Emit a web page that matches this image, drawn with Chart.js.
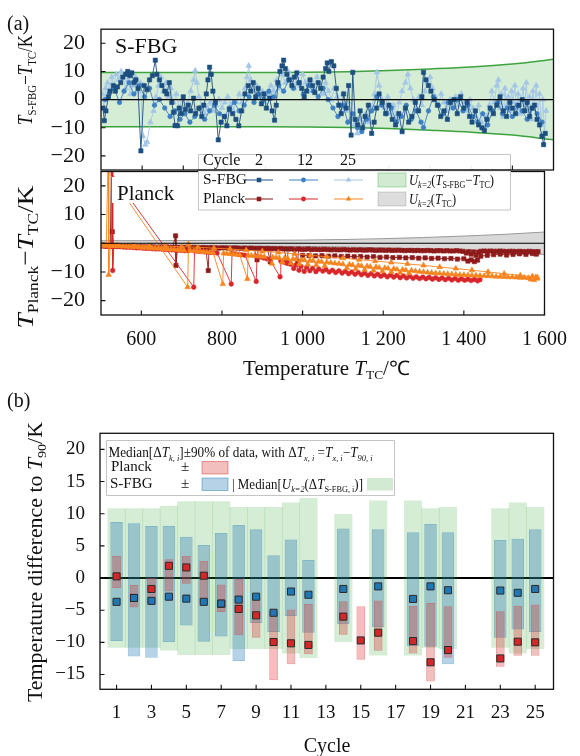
<!DOCTYPE html>
<html><head><meta charset="utf-8">
<script src="https://cdn.jsdelivr.net/npm/chart.js@4.4.1/dist/chart.umd.min.js"></script>
<style>
html,body{margin:0;padding:0;background:#fff;}
#wrap{position:relative;width:580px;height:756px;overflow:hidden;}
canvas{position:absolute;left:0;top:0;}
</style></head><body>
<div id="wrap">
<canvas id="cA2" width="580" height="756"></canvas>
<canvas id="cA1" width="580" height="756"></canvas>
<canvas id="cB" width="580" height="756"></canvas>
</div>
<script>
// ================= Panel (a) data =================
const tempTicksTop = [600,700,800,900,1000,1100,1200,1300,1400,1500];
const tempTicksBottom = [600,800,1000,1200,1400,1600];
const devTicks = [-20,-10,0,10,20];

// S-FBG - T_TC, cycle 2 / 12 / 25  ([T_TC, deviation])
const fbgCycle2 = [[505,-3],[508,-7.5],[512,-4],[518,1],[522,3],[530,5],[535,3],[540,4.5],[548,6],[553,8],[560,9],[565,10],[570,8.5],[575,9.5],[580,6],[585,7],[590,4],[597,-18.2],[605,5],[612,3.5],[618,7],[625,8.5],[632,14],[636,9],[642,7],[648,5],[655,3],[660,2],[666,6],[672,-1],[676,-4.5],[680,-9.2],[686,-9.3],[690,-3],[695,-5],[700,1],[705,-3.5],[712,-2],[718,-4],[725,0.5],[730,-5],[738,-3],[745,-6],[750,-2],[756,2],[760,7],[764,11.5],[768,9],[772,3],[778,-1],[785,-14.3],[792,-8],[800,-6],[806,-9.3],[812,-3.5],[820,-5],[828,-7],[835,-9.3],[842,-4],[850,2],[858,5],[864,3],[870,6],[876,1],[882,4],[890,-1.5],[896,2],[902,-3],[910,0.5],[916,-4],[922,-7.3],[926,-2],[930,6],[935,10],[940,12],[944,14],[948,11],[952,9],[958,7],[964,5],[970,8],[976,9.5],[982,6],[988,4],[994,1],[1000,3],[1008,7],[1014,5],[1020,2.5],[1028,6],[1034,4],[1040,8],[1046,11],[1050,13],[1054,10],[1060,13.5],[1066,12],[1072,4],[1078,-2],[1084,-5],[1090,2],[1096,-3],[1102,5],[1108,-12.6],[1112,9.7],[1118,-7],[1124,-9],[1130,-4],[1136,-10],[1142,-6],[1150,-2],[1158,-12],[1164,-8],[1170,-3],[1176,2],[1184,-1],[1192,-5],[1200,-2],[1208,-7],[1216,-9],[1224,-5],[1232,-11.4],[1240,-3],[1248,-8],[1256,-6],[1264,-1],[1272,-4],[1280,1],[1284,9.7],[1290,7],[1296,5],[1302,3],[1310,0],[1318,-2],[1326,-6],[1334,-4],[1342,-7],[1350,-1],[1358,0],[1366,-5],[1374,1],[1382,-3],[1390,-1],[1396,-6],[1402,-8],[1410,-4],[1418,-9],[1426,-10],[1432,-11],[1438,-7],[1446,-3],[1454,-5],[1462,-2],[1470,1],[1478,-4],[1486,-6],[1494,-1],[1500,-3],[1508,-5],[1516,-2],[1524,0],[1530,-4],[1536,-1],[1542,-6],[1548,-3],[1554,-2],[1560,-7],[1566,-9],[1572,-13],[1576,-16],[1580,-12]];
const fbgCycle12 = [[510,0],[520,2],[532,4],[545,-1],[556,3],[568,6],[580,2],[594,5],[606,1],[618,4],[630,-2],[642,0],[655,-3],[668,-6],[680,-4],[692,-7],[704,-5],[716,-8],[728,-6],[740,-3],[752,-7],[764,-4],[776,-2],[788,-5],[800,-6],[812,-3],[824,-1],[836,-4],[848,-2],[860,1],[872,-1],[884,2],[896,0],[908,3],[920,1],[932,5],[944,3],[956,7],[968,4],[980,6],[992,2],[1004,5],[1016,3],[1028,1],[1040,4],[1052,0],[1064,-3],[1076,-6],[1088,-2],[1100,-8],[1112,-5],[1124,-10],[1134,-11.4],[1146,-7],[1158,-4],[1170,1],[1182,-2],[1194,-5],[1206,-3],[1218,-8],[1230,-6],[1242,-2],[1254,-7],[1266,-4],[1278,-8],[1284,-9.9],[1296,-4],[1308,1],[1320,-2],[1332,-5],[1344,-1],[1356,-3],[1368,0],[1380,-4],[1392,-2],[1404,-6],[1416,-8],[1428,-5],[1440,-9],[1452,-4],[1464,-1],[1476,-5],[1488,-3],[1500,-6],[1512,-2],[1524,-4],[1536,-7],[1548,-3],[1560,-5],[1572,-8]];
const fbgCycle25 = [[503,2],[507,-3],[511,4],[516,6],[520,3],[526,8],[531,5],[537,9],[543,7],[549,10],[554,8],[560,4],[566,7],[572,2],[578,5],[584,8],[590,3],[596,6],[602,-13],[608,-16],[612,-15],[620,-8],[628,-4],[634,1],[640,5],[646,8],[652,3],[658,6],[664,1],[670,4],[676,-1],[683,2],[690,-3],[697,0],[704,-4],[711,-1],[718,3],[725,7],[729,10.3],[733,6],[738,1],[745,-2],[752,-5],[759,-3],[766,-1],[773,-4],[780,-2],[787,0],[794,-3],[801,-1],[808,1],[815,-2],[822,-4],[829,-1],[836,2],[843,-1],[850,4],[855,8],[859,12],[864,7],[871,3],[878,5],[885,1],[892,3],[899,-1],[906,2],[913,5],[920,3],[927,7],[934,4],[941,9],[948,6],[955,10],[962,7],[969,4],[976,8],[983,5],[990,9],[997,6],[1004,3],[1011,7],[1018,4],[1025,8],[1032,5],[1039,2],[1046,6],[1053,3],[1060,0],[1067,4],[1074,1],[1081,-2],[1088,2],[1095,-4],[1102,-1],[1109,-6],[1116,-9],[1123,-12],[1130,-7],[1137,-10],[1144,-5],[1151,-8],[1158,-3],[1165,2],[1171,9.7],[1176,5],[1183,0],[1190,-3],[1197,1],[1204,-5],[1211,-2],[1218,-6],[1225,-1],[1232,3],[1240,6],[1246,9],[1252,4],[1259,0],[1266,-3],[1273,1],[1280,-2],[1287,3],[1294,6],[1300,8],[1306,4],[1313,1],[1320,-2],[1327,2],[1334,-1],[1341,-4],[1348,0],[1355,-3],[1362,1],[1369,-2],[1376,2],[1383,-1],[1390,-4],[1397,0],[1404,-3],[1411,-6],[1418,-2],[1425,-8],[1432,-10],[1438,-6],[1444,-2],[1450,3],[1456,-1],[1462,5],[1466,7],[1470,-3],[1474,2],[1478,-6],[1482,4],[1486,-2],[1490,1],[1494,-4],[1498,3],[1502,-1],[1506,5],[1510,-3],[1514,2],[1518,-5],[1522,0],[1526,4],[1530,-2],[1534,6],[1538,-4],[1542,1],[1546,-7],[1550,3],[1554,-2],[1558,5],[1562,-6],[1566,2],[1570,-9],[1574,0],[1578,-12],[1582,-4]];

// Planck - T_TC, cycle 2 / 12 / 25 (null = break in the line)
const planckCycle2 = [[503,-0.8],[508,-0.9],[513,-1.0],[518,-0.9],[523,-1.0],[527,40],[528,4.0],[531,-1.0],[537,-1.1],[544,-1.0],[551,-1.1],[558,-1.2],[566,-1.1],[574,-1.2],[582,-1.2],[590,-1.3],[598,-1.2],[606,-1.3],[614,-1.3],[622,-1.2],[630,-1.3],[638,-1.4],[646,-1.3],[654,-1.4],[662,-1.3],[670,-1.4],[678,-1.4],[685,2.6],[686,-7.7],[690,-1.4],[698,-1.5],[706,-1.4],[714,-1.5],[722,-1.5],[730,-1.4],[738,-1.5],[746,-1.6],[754,-1.5],[760,-1.6],[766,-9.5],[768,-1.6],[776,-1.5],[784,-1.6],[792,-1.7],[800,-1.6],[808,-1.6],[816,-1.7],[824,-1.7],[832,-1.6],[840,-1.7],[848,-1.8],[856,-1.7],[864,-1.8],[872,-1.7],[880,-1.8],[887,-5.8],[889,-1.8],[897,-1.8],[905,-1.9],[913,-1.8],[920,-6.5],[922,-1.9],[930,-1.9],[938,-2.0],[946,-1.9],[954,-2.0],[962,-6.8],[964,-2.0],[972,-2.0],[980,-2.1],[988,-6.3],[990,-2.0],[998,-2.1],[1006,-2.1],[1014,-2.0],[1022,-2.2],[1030,-2.1],[1038,-2.2],[1046,-2.2],[1054,-2.1],[1062,-2.2],[1070,-2.3],[1078,-2.2],[1086,-2.3],[1094,-2.3],[1102,-2.2],[1110,-2.3],[1118,-2.4],[1126,-2.3],[1134,-2.4],[1142,-2.3],[1150,-2.4],[1158,-2.4],[1166,-2.3],[1174,-2.4],[1182,-2.5],[1190,-2.4],[1198,-2.4],[1206,-2.5],[1214,-2.4],[1222,-2.5],[1230,-2.5],[1238,-2.4],[1246,-2.5],[1254,-2.6],[1262,-2.5],[1270,-2.5],[1278,-2.6],[1286,-2.5],[1294,-2.6],[1302,-2.6],[1310,-2.5],[1318,-2.6],[1326,-2.7],[1334,-2.6],[1342,-2.6],[1350,-2.7],[1358,-2.6],[1366,-2.7],[1374,-2.7],[1382,-2.6],[1390,-2.7],[1398,-2.8],[1406,-3.4],[1412,-2.9],[1418,-3.8],[1424,-3.0],[1430,-4.2],[1436,-3.1],[1442,-2.8],[1450,-2.7],[1458,-2.8],[1466,-2.7],[1474,-2.8],[1482,-2.8],[1490,-2.7],[1498,-2.8],[1506,-2.9],[1514,-2.8],[1522,-2.8],[1530,-2.9],[1538,-2.8],[1546,-2.9],[1554,-2.9],[1562,-2.8],[1570,-2.9],[1578,-3.0],[1584,-2.9],[1584,null],
[1000,-4.2],[1016,-4.3],[1032,-4.4],[1048,-4.3],[1064,-4.5],[1080,-4.4],[1096,-4.6],[1112,-4.5],[1128,-4.7],[1144,-4.6],[1160,-4.8],[1176,-4.7],[1192,-4.9],[1208,-4.8],[1224,-5.0],[1240,-4.9],[1256,-5.1],[1272,-5.0],[1288,-5.2],[1304,-5.1],[1320,-5.3],[1336,-5.2],[1352,-5.4],[1368,-5.3],[1384,-5.5],[1400,-5.4],[1410,-6.2],[1418,-5.8],[1426,-6.4],[1434,-5.9],[1442,-4.5],[1458,-4.2],[1474,-4.0],[1490,-3.8],[1506,-4.1],[1522,-3.9],[1538,-3.7],[1554,-3.9],[1570,-3.6],[1580,-3.8]];
const planckCycle12 = [[503,-0.9],[509,-1.0],[515,-1.0],[521,-1.1],[526,-1.1],[529,40],[529,-9.5],[532,-1.1],[540,-1.2],[548,-1.2],[556,-1.3],[564,-1.4],[572,-1.4],[580,-1.5],[588,-1.6],[596,-1.6],[604,-1.7],[612,-1.8],[620,-1.8],[628,-1.9],[636,-2.0],[644,-2.0],[652,-2.1],[660,-2.2],[668,-2.2],[676,-2.3],[684,-2.4],[692,-2.4],[700,-2.5],[708,-2.6],[716,-2.6],[716,null],[518,26],[730,-15.3],[732,-2.7],[740,-2.8],[748,-2.9],[756,-3.0],[764,-3.1],[772,-3.2],[780,-3.3],[788,-3.4],[823,-14.2],[825,-3.6],[833,-3.7],[841,-3.9],[849,-4.0],[857,-4.2],[885,-13.3],[887,-4.5],[895,-4.8],[903,-5.1],[911,-5.4],[919,-5.8],[944,-11.7],[946,-6.2],[954,-6.6],[962,-7.0],[970,-7.3],[978,-8.8],[983,-7.6],[991,-9.4],[996,-8.0],[1004,-9.8],[1010,-8.4],[1018,-9.6],[1025,-8.7],[1033,-9.9],[1040,-9.0],[1050,-9.7],[1058,-9.2],[1066,-10.0],[1074,-9.4],[1082,-10.2],[1090,-9.6],[1098,-10.4],[1106,-9.8],[1114,-10.6],[1122,-10.0],[1130,-10.8],[1138,-10.2],[1146,-11.0],[1154,-10.4],[1162,-11.2],[1170,-10.6],[1178,-11.4],[1186,-10.8],[1194,-11.5],[1202,-11.0],[1210,-11.7],[1218,-11.1],[1226,-11.8],[1234,-11.2],[1242,-12.0],[1250,-11.4],[1258,-12.1],[1266,-11.5],[1274,-12.2],[1282,-11.7],[1290,-12.3],[1298,-11.8],[1306,-12.4],[1314,-11.9],[1322,-12.5],[1330,-12.0],[1338,-12.6],[1346,-12.1],[1354,-12.7],[1362,-12.2],[1370,-12.8],[1378,-12.3],[1386,-12.9],[1394,-12.4],[1402,-12.9],[1410,-12.5],[1418,-13.0],[1426,-12.6],[1434,-13.1],[1440,-12.7]];
const planckCycle25 = [[503,-0.7],[508,-0.8],[513,-0.8],[519,40],[519,-11],[523,-0.9],[530,-0.9],[538,-1.0],[546,-1.0],[554,-1.1],[562,-1.1],[570,-1.2],[578,-1.3],[586,-1.3],[594,-1.4],[602,-1.5],[610,-1.5],[618,-1.6],[626,-1.7],[634,-1.8],[642,-1.8],[650,-1.9],[658,-2.0],[666,-2.1],[674,-2.1],[682,-2.2],[690,-2.3],[698,-2.4],[706,-2.5],[706,null],[512,26],[715,-15.3],[717,-0.3],[722,-2.6],[730,-2.7],[738,-2.8],[746,-2.9],[754,-3.0],[762,-3.1],[770,-3.2],[778,-3.3],[802,-14.2],[804,-3.5],[812,-3.6],[820,-3.7],[828,-3.8],[836,-3.9],[844,-4.0],[863,-12.4],[865,-4.2],[873,-4.3],[881,-4.4],[889,-4.5],[897,-4.6],[905,-4.7],[924,-7.1],[926,-4.9],[934,-5.0],[942,-5.1],[950,-6.6],[955,-5.2],[963,-5.3],[971,-6.9],[976,-5.5],[984,-5.6],[992,-7.2],[997,-5.8],[1005,-5.9],[1013,-7.4],[1018,-6.0],[1026,-6.1],[1034,-7.6],[1039,-6.3],[1047,-6.4],[1055,-7.9],[1060,-6.6],[1070,-6.8],[1080,-7.0],[1090,-7.1],[1100,-7.3],[1110,-8.6],[1116,-7.4],[1124,-7.6],[1132,-8.9],[1138,-7.7],[1146,-7.9],[1154,-9.2],[1160,-8.0],[1168,-8.2],[1176,-9.5],[1182,-8.3],[1190,-8.5],[1198,-9.7],[1204,-8.6],[1212,-8.8],[1220,-10.0],[1226,-8.9],[1234,-9.1],[1242,-10.2],[1248,-9.2],[1256,-9.4],[1264,-10.4],[1270,-9.5],[1280,-9.7],[1290,-9.9],[1300,-10.0],[1310,-10.2],[1320,-10.3],[1330,-10.4],[1340,-10.5],[1350,-10.6],[1360,-10.7],[1370,-10.8],[1380,-10.9],[1390,-11.0],[1400,-11.0],[1410,-11.1],[1420,-11.2],[1430,-11.2],[1440,-11.3],[1450,-11.4],[1460,-11.4],[1470,-11.5],[1480,-11.6],[1490,-11.6],[1500,-11.7],[1510,-11.8],[1520,-11.8],[1530,-11.9],[1540,-12.0],[1550,-12.0],[1560,-12.1],[1566,-12.6],[1570,-11.5],[1574,-12.8],[1578,-11.9],[1582,-12.3],[1582,null],
[1582,-11.8],[1540,-11.2],[1500,-10.6],[1460,-10.0],[1420,-9.4],[1380,-8.8],[1340,-8.3],[1300,-7.7],[1260,-7.2],[1220,-6.7],[1180,-6.2],[1140,-5.7],[1100,-5.2],[1060,-4.7],[1020,-4.2],[980,-3.7],[940,-3.2],[900,-2.8],[860,-2.4],[820,-2.0],[780,-1.7],[740,-1.4],[700,-1.2],[660,-1.0],[620,-0.9],[580,-0.8],[540,-0.7],[505,-0.6]];

// Uncertainty bands (k=2)
const bandTemps = [500,600,700,800,900,1000,1100,1200,1300,1400,1500,1600];
const fbgBandUpper = [9.6,9.6,9.6,9.6,9.6,9.7,9.9,10.3,10.9,11.6,12.6,14.3];
const fbgBandLower = [-9.6,-9.6,-9.6,-9.6,-9.6,-9.7,-9.9,-10.3,-10.9,-11.6,-12.6,-14.3];
const tcBandUpper = [0.9,0.9,0.95,1.0,1.05,1.1,1.3,1.6,2.0,2.5,3.1,3.9];
const tcBandLower = [-0.9,-0.9,-0.95,-1.0,-1.05,-1.1,-1.3,-1.6,-2.0,-2.5,-3.1,-3.9];

// ================= Panel (b) data =================
const cycleTicks = [1,3,5,7,9,11,13,15,17,19,21,23,25];
const diffTicks = [-15,-10,-5,0,5,10,15,20];
const greenCycles = [1,2,3,4,5,6,7,8,9,10,11,12,14,16,18,19,20,23,24,25];
const greenLow  = [-10.8,-10.8,-10.8,-11.2,-11.9,-11.9,-11.9,-11.0,-11.0,-11.0,-11.7,-12.4,-9.9,-12.0,-12.0,-10.8,-11.0,-10.8,-11.7,-11.0];
const greenHigh = [10.8,10.8,10.8,11.2,11.9,11.9,11.9,11.0,11.0,11.0,11.7,12.4,9.9,12.0,12.0,10.8,11.0,10.8,11.7,11.0];
const fbgCycles = [1,2,3,4,5,6,7,8,9,10,11,12,14,16,18,19,20,23,24,25];
const fbgLow    = [-9.8,-12.2,-12.4,-9.95,-7.4,-9.9,-9.1,-12.9,-7.0,-8.4,-5.9,-8.5,-7.2,-7.6,-10.6,-10.7,-13.4,-9.3,-8.0,-8.4];
const fbgHigh   = [8.7,8.5,8.1,8.1,6.4,5.15,7.0,8.25,7.6,3.55,6.0,2.8,7.7,7.6,7.1,8.4,7.1,5.9,6.1,7.6];
const fbgMedian = [-3.7,-3.1,-3.55,-2.9,-3.2,-3.7,-3.97,-3.35,-2.9,-5.4,-2.1,-2.6,-1.7,-1.3,-3.25,-1.3,-1.9,-1.95,-2.3,-1.7];
const planckCycles = [1,2,3,4,5,6,7,8,9,10,11,12,14,15,16,18,19,20,23,24,25];
const planckLow    = [-1.55,-4.6,-4.1,-2.1,-0.9,-4.1,-5.3,-8.9,-9.3,-15.9,-13.4,-11.85,-8.8,-12.7,-11.3,-11.75,-16.1,-12.4,-13.8,-12.1,-12.1];
const planckHigh   = [3.45,-1.1,0.0,2.9,3.45,2.7,-1.0,-0.15,-3.1,-5.15,-4.9,-4.0,-3.6,-4.4,-3.5,-4.3,-3.9,-4.4,-5.15,-4.3,-4.1];
const planckMedian = [0.26,-3.1,-1.7,1.9,1.65,0.36,-4.0,-4.8,-5.8,-9.95,-10.15,-10.4,-6.0,-9.7,-8.5,-9.8,-13.1,-11.2,-12.5,-9.9,-10.0];

// ================= helpers =================
const SERIF = '"Liberation Serif","Times New Roman",Times,serif';
Chart.defaults.font.family = SERIF;
Chart.defaults.color = '#111';
Chart.defaults.animation = false;

const COL = {f2:'#1c4f80', f12:'#3c80c2', f25:'#a4c6e6', p2:'#8e1b1b', p12:'#d8262a', p25:'#f7841f'};
const pairs = arr => arr.map(p => ({x: p[0], y: p[1]}));
const xy = (xs, ys) => xs.map((x, i) => ({x, y: ys[i]}));
const spans = (xs, lo, hi) => xs.map((x, i) => ({x, y: [lo[i], hi[i]]}));
const fmtMinus = v => (v < 0 ? '\u2212' + Math.abs(v) : String(v));
const fmtThousands = v => (v >= 1000 ? Math.floor(v / 1000) + ' ' + String(v % 1000).padStart(3, '0') : String(v));
const fixTicks = list => (s => { s.ticks = list.map(v => ({value: v})); });

function rich(ctx, parts, x, y, o) {
  const size = o.size, subSize = size * (o.subScale || 0.64);
  const fontOf = p => (p[1].indexOf('i') >= 0 ? 'italic ' : '') + (p[1].indexOf('s') >= 0 ? subSize : size) + 'px ' + SERIF;
  ctx.save();
  let w = 0;
  const ws = parts.map(p => { ctx.font = fontOf(p); const m = ctx.measureText(p[0]).width; w += m; return m; });
  const sx = o.width ? o.width / w : 1;
  ctx.translate(x, y);
  if (o.rot) ctx.rotate(o.rot);
  ctx.scale(sx, 1);
  let cx = o.align === 'left' ? 0 : -w / 2;
  ctx.fillStyle = o.color || '#111';
  ctx.textAlign = 'left'; ctx.textBaseline = 'alphabetic';
  const base = size * 0.34;
  parts.forEach((p, i) => {
    ctx.font = fontOf(p);
    const dy = p[1].indexOf('s') >= 0 ? size * 0.22 : 0;
    ctx.fillText(p[0], cx, base + dy);
    cx += ws[i];
  });
  ctx.restore();
}

function frame(o) {
  return {
    id: 'frame',
    beforeDatasetsDraw(chart) { if (o.before) o.before(chart, chart.ctx, chart.chartArea, chart.scales.x, chart.scales.y); },
    afterDatasetsDraw(chart) {
      const ctx = chart.ctx, a = chart.chartArea, xs = chart.scales.x, ys = chart.scales.y;
      ctx.save();
      if (o.zeroWidth) {
        const y0 = ys.getPixelForValue(0);
        ctx.strokeStyle = '#000'; ctx.lineWidth = o.zeroWidth;
        ctx.beginPath(); ctx.moveTo(a.left, y0); ctx.lineTo(a.right, y0); ctx.stroke();
      }
      if (o.extra) o.extra(chart, ctx, a, xs, ys);
      ctx.strokeStyle = '#111'; ctx.lineWidth = 1.3;
      ctx.strokeRect(a.left, a.top, a.right - a.left, a.bottom - a.top);
      ctx.lineWidth = 1.1;
      ctx.beginPath();
      for (const t of ys.ticks) { const y = ys.getPixelForValue(t.value); ctx.moveTo(a.left, y); ctx.lineTo(a.left + 4.5, y); }
      for (const t of xs.ticks) { const x = xs.getPixelForValue(t.value); ctx.moveTo(x, a.bottom); ctx.lineTo(x, a.bottom - 4.5); }
      ctx.stroke();
      ctx.restore();
    },
    afterDraw(chart) { if (o.after) o.after(chart, chart.ctx, chart.chartArea, chart.scales.x, chart.scales.y); }
  };
}

function marker(ctx, style, x, y, r, color) {
  ctx.fillStyle = color; ctx.beginPath();
  if (style === 'rect') { const s = r * 0.707; ctx.rect(x - s, y - s, 2 * s, 2 * s); }
  else if (style === 'circle') { ctx.arc(x, y, r, 0, Math.PI * 2); }
  else { ctx.moveTo(x, y - r); ctx.lineTo(x + r * 0.866, y + r * 0.5); ctx.lineTo(x - r * 0.866, y + r * 0.5); ctx.closePath(); }
  ctx.fill();
}

function baseOptions(padding, xCfg, yCfg) {
  return {
    responsive: false, animation: false, events: [],
    layout: {padding},
    plugins: {legend: {display: false}, tooltip: {enabled: false}},
    scales: {x: xCfg, y: yCfg}
  };
}

function seriesDS(data, color, style, radius, order) {
  return {data: pairs(data), borderColor: color, backgroundColor: color, pointBackgroundColor: color, pointBorderColor: color,
    pointStyle: style, pointRadius: radius, pointBorderWidth: 0.6, borderWidth: 0.9, showLine: true, spanGaps: false, order};
}

// ================= Panel (a), lower: Planck =================
new Chart(document.getElementById('cA2'), {
  type: 'line',
  data: {datasets: [
    seriesDS(planckCycle25, COL.p25, 'triangle', 3.2, 1),
    seriesDS(planckCycle12, COL.p12, 'circle', 2.3, 2),
    seriesDS(planckCycle2, COL.p2, 'rect', 3.0, 3),
    {data: xy(bandTemps, tcBandUpper), borderColor: '#9a9a9a', borderWidth: 1, pointRadius: 0, fill: '+1', backgroundColor: 'rgba(120,120,120,0.28)', cubicInterpolationMode: 'monotone', order: 10},
    {data: xy(bandTemps, tcBandLower), borderColor: '#9a9a9a', borderWidth: 1, pointRadius: 0, fill: false, cubicInterpolationMode: 'monotone', order: 11}
  ]},
  options: baseOptions({left: 0, right: 26.5, top: 171.5, bottom: 381},
    {type: 'linear', min: 500, max: 1600, afterBuildTicks: fixTicks(tempTicksBottom),
     ticks: {callback: fmtThousands, font: {size: 20}, padding: 13, maxRotation: 0, autoSkip: false, color: '#111'},
     grid: {display: false, drawTicks: false}, border: {display: false}, afterFit: s => { s.height = 60; }},
    {type: 'linear', min: -25, max: 25, afterBuildTicks: fixTicks(devTicks),
     ticks: {callback: fmtMinus, font: {size: 22}, padding: 16, color: '#111'},
     grid: {display: false, drawTicks: false}, border: {display: false}, afterFit: s => { s.width = 101; }}),
  plugins: [frame({
    zeroWidth: 1.2,
    extra(chart, ctx) {
      ctx.fillStyle = '#fff'; ctx.fillRect(112, 177, 66, 26);
      ctx.fillStyle = '#111'; ctx.font = '21px ' + SERIF; ctx.textAlign = 'left'; ctx.textBaseline = 'alphabetic';
      ctx.fillText('Planck', 117, 200);
    },
    after(chart, ctx) {
      rich(ctx, [['T','i'],['Planck','s'],['\u2212','n'],['T','i'],['TC','s'],['/K','n']], 25, 257, {size: 24, rot: -Math.PI / 2, width: 143});
      rich(ctx, [['Temperature ','n'],['T','i'],['TC','s'],['/\u2103','n']], 326.5, 368, {size: 20, width: 167});
      ctx.save(); ctx.fillStyle = '#111'; ctx.font = '20px ' + SERIF; ctx.textAlign = 'left'; ctx.textBaseline = 'alphabetic';
      ctx.fillText('(a)', 7, 30); ctx.restore();
    }
  })]
});

// ================= Panel (a), upper: S-FBG =================
function drawLegendA(ctx) {
  ctx.save();
  ctx.fillStyle = 'rgba(255,255,255,0.92)'; ctx.strokeStyle = '#c4c4c4'; ctx.lineWidth = 1;
  ctx.beginPath(); ctx.rect(198.5, 154.5, 312, 55.5); ctx.fill(); ctx.stroke();
  ctx.strokeStyle = '#111'; ctx.lineWidth = 1.3;
  ctx.beginPath(); ctx.moveTo(198, 170); ctx.lineTo(511, 170); ctx.stroke();
  ctx.fillStyle = '#111'; ctx.textBaseline = 'middle'; ctx.font = '16px ' + SERIF;
  ctx.textAlign = 'left'; ctx.fillText('Cycle', 203, 161);
  ctx.textAlign = 'center'; ctx.fillText('2', 259, 161); ctx.fillText('12', 305, 161); ctx.fillText('25', 348, 161);
  ctx.textAlign = 'left'; ctx.font = '15.5px ' + SERIF;
  ctx.fillText('S-FBG', 203, 180); ctx.fillText('Planck', 203, 199);
  const cols = [[245, 273], [289, 318], [334, 363]];
  const rows = [[180, [[COL.f2,'rect',3.2],[COL.f12,'circle',2.4],[COL.f25,'triangle',3.2]]], [199, [[COL.p2,'rect',3.2],[COL.p12,'circle',2.4],[COL.p25,'triangle',3.2]]]];
  rows.forEach(([y, specs]) => specs.forEach((sp, i) => {
    ctx.strokeStyle = sp[0]; ctx.lineWidth = 1;
    ctx.beginPath(); ctx.moveTo(cols[i][0], y); ctx.lineTo(cols[i][1], y); ctx.stroke();
    marker(ctx, sp[1], (cols[i][0] + cols[i][1]) / 2, y, sp[2], sp[0]);
  }));
  ctx.fillStyle = 'rgba(44,160,44,0.22)'; ctx.fillRect(378, 173, 28, 14);
  ctx.strokeStyle = 'rgba(44,160,44,0.35)'; ctx.strokeRect(378, 173, 28, 14);
  ctx.fillStyle = 'rgba(120,120,120,0.25)'; ctx.fillRect(378, 192, 28, 14);
  ctx.strokeStyle = 'rgba(120,120,120,0.3)'; ctx.strokeRect(378, 192, 28, 14);
  ctx.restore();
  rich(ctx, [['U','i'],['k=2','si'],['(','n'],['T','i'],['S-FBG','s'],['\u2212','n'],['T','i'],['TC','s'],[')','n']], 409, 180, {size: 15, align: 'left', width: 85});
  rich(ctx, [['U','i'],['k=2','si'],['(','n'],['T','i'],['TC','s'],[')','n']], 409, 199, {size: 15, align: 'left', width: 47});
}

new Chart(document.getElementById('cA1'), {
  type: 'line',
  data: {datasets: [
    seriesDS(fbgCycle2, COL.f2, 'rect', 3.0, 1),
    seriesDS(fbgCycle12, COL.f12, 'circle', 2.3, 2),
    seriesDS(fbgCycle25, COL.f25, 'triangle', 3.3, 3),
    {data: xy(bandTemps, fbgBandUpper), borderColor: '#3fa33f', borderWidth: 1.5, pointRadius: 0, fill: '+1', backgroundColor: 'rgba(44,160,44,0.2)', cubicInterpolationMode: 'monotone', order: 10},
    {data: xy(bandTemps, fbgBandLower), borderColor: '#3fa33f', borderWidth: 1.5, pointRadius: 0, fill: false, cubicInterpolationMode: 'monotone', order: 11}
  ]},
  options: baseOptions({left: 0, right: 26.5, top: 28.5, bottom: 586},
    {type: 'linear', min: 500, max: 1600, afterBuildTicks: fixTicks(tempTicksTop),
     ticks: {display: false}, grid: {display: false, drawTicks: false}, border: {display: false}, afterFit: s => { s.height = 0; }},
    {type: 'linear', min: -25, max: 25, afterBuildTicks: fixTicks(devTicks),
     ticks: {callback: fmtMinus, font: {size: 22}, padding: 16, color: '#111'},
     grid: {display: false, drawTicks: false}, border: {display: false}, afterFit: s => { s.width = 101; }}),
  plugins: [frame({
    zeroWidth: 1.2,
    extra(chart, ctx) {
      ctx.fillStyle = '#111'; ctx.font = '22px ' + SERIF; ctx.textAlign = 'left'; ctx.textBaseline = 'alphabetic';
      ctx.fillText('S-FBG', 115, 53);
    },
    after(chart, ctx) {
      drawLegendA(ctx);
      rich(ctx, [['T','i'],['S-FBG','s'],['\u2212','n'],['T','i'],['TC','s'],['/K','n']], 25, 80, {size: 20, rot: -Math.PI / 2, width: 90});
    }
  })]
});

// ================= Panel (b) =================
function drawLegendB(ctx) {
  ctx.save();
  ctx.fillStyle = 'rgba(255,255,255,0.92)'; ctx.strokeStyle = '#c4c4c4'; ctx.lineWidth = 1;
  ctx.beginPath(); ctx.rect(106.5, 440.5, 288, 55); ctx.fill(); ctx.stroke();
  ctx.fillStyle = '#111'; ctx.textBaseline = 'middle'; ctx.textAlign = 'left'; ctx.font = '15px ' + SERIF;
  ctx.fillText('Planck', 111, 467); ctx.fillText('S-FBG', 110, 484);
  ctx.textAlign = 'center'; ctx.fillText('\u00b1', 185, 467); ctx.fillText('\u00b1', 185, 484);
  ctx.fillStyle = 'rgba(214,39,40,0.3)'; ctx.fillRect(202, 461.5, 26, 12.5);
  ctx.strokeStyle = 'rgba(214,39,40,0.45)'; ctx.strokeRect(202, 461.5, 26, 12.5);
  ctx.fillStyle = 'rgba(31,119,180,0.33)'; ctx.fillRect(202, 478, 26, 12.5);
  ctx.strokeStyle = 'rgba(31,119,180,0.45)'; ctx.strokeRect(202, 478, 26, 12.5);
  ctx.fillStyle = 'rgba(44,160,44,0.22)'; ctx.fillRect(367, 478, 26, 12.5);
  ctx.restore();
  rich(ctx, [['Median[\u0394','n'],['T','i'],['k, i','si'],[']\u00b190% of data, with \u0394','n'],['T','i'],['x, i','si'],[' =','n'],['T','i'],['x, i','si'],['\u2212','n'],['T','i'],['90, i','si']], 108.5, 452.5, {size: 14.5, align: 'left', width: 264});
  rich(ctx, [['| Median[','n'],['U','i'],['k=2','si'],['(\u0394','n'],['T','i'],['S-FBG, i','s'],[')]','n']], 232, 484, {size: 14.5, align: 'left', width: 131});
}

new Chart(document.getElementById('cB'), {
  type: 'bar',
  data: {datasets: [
    {type: 'bar', data: spans(greenCycles, greenLow, greenHigh), backgroundColor: 'rgba(44,160,44,0.2)', borderWidth: 0, barPercentage: 1, categoryPercentage: 1, grouped: false, order: 5},
    {type: 'bar', data: spans(fbgCycles, fbgLow, fbgHigh), backgroundColor: 'rgba(31,119,180,0.33)', borderColor: 'rgba(31,119,180,0.45)', borderWidth: 1, borderSkipped: false, barPercentage: 0.72, categoryPercentage: 1, grouped: false, order: 4},
    {type: 'bar', data: spans(planckCycles, planckLow, planckHigh), backgroundColor: 'rgba(214,39,40,0.3)', borderColor: 'rgba(214,39,40,0.45)', borderWidth: 1, borderSkipped: false, barPercentage: 0.5, categoryPercentage: 1, grouped: false, order: 3},
    {type: 'line', data: xy(planckCycles, planckMedian), showLine: false, pointStyle: 'rect', pointRadius: 5, pointBackgroundColor: '#d62728', pointBorderColor: '#2a2a2a', pointBorderWidth: 1, order: 2},
    {type: 'line', data: xy(fbgCycles, fbgMedian), showLine: false, pointStyle: 'rect', pointRadius: 5, pointBackgroundColor: '#1f77b4', pointBorderColor: '#2a2a2a', pointBorderWidth: 1, order: 1}
  ]},
  options: baseOptions({left: 0, right: 26.5, top: 433.3, bottom: 16.7},
    {type: 'linear', min: 0.05, max: 26.05, offset: false, afterBuildTicks: fixTicks(cycleTicks),
     ticks: {font: {size: 19}, padding: 12, maxRotation: 0, autoSkip: false, color: '#111'},
     grid: {display: false, drawTicks: false}, border: {display: false}, afterFit: s => { s.height = 50; }},
    {type: 'linear', min: -17.3, max: 22.5, afterBuildTicks: fixTicks(diffTicks),
     ticks: {callback: fmtMinus, font: {size: 19}, padding: 15, color: '#111'},
     grid: {display: false, drawTicks: false}, border: {display: false}, afterFit: s => { s.width = 100; }}),
  plugins: [frame({
    before(chart, ctx, a, xs, ys) {
      const y0 = ys.getPixelForValue(0);
      ctx.save(); ctx.strokeStyle = '#000'; ctx.lineWidth = 2.2;
      ctx.beginPath(); ctx.moveTo(a.left, y0); ctx.lineTo(a.right, y0); ctx.stroke(); ctx.restore();
    },
    after(chart, ctx) {
      drawLegendB(ctx);
      rich(ctx, [['Temperature difference to ','n'],['T','i'],['90','s'],['/K','n']], 35, 562, {size: 20, rot: -Math.PI / 2, width: 280});
      rich(ctx, [['Cycle','n']], 327, 745, {size: 20});
      ctx.save(); ctx.fillStyle = '#111'; ctx.font = '20px ' + SERIF; ctx.textAlign = 'left'; ctx.textBaseline = 'alphabetic';
      ctx.fillText('(b)', 7, 407); ctx.restore();
    }
  })]
});
</script>
</body></html>
